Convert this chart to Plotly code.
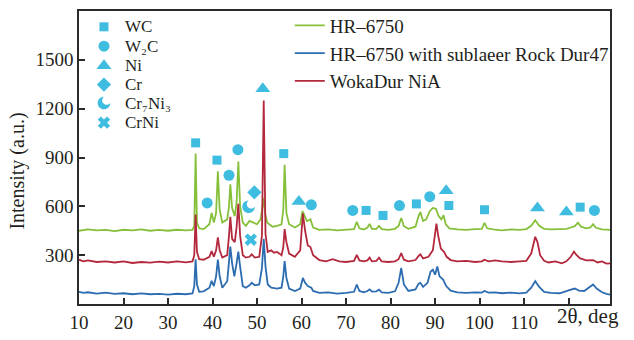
import plotly.graph_objects as go

# ---------------- data ----------------
tt_hr = [10, 12, 14, 16, 18, 20, 22, 24, 26, 28,
         30, 32, 34, 35.5, 35.9, 36.2, 36.5, 37.0, 38.0, 39.3,
         39.8, 40.3, 40.8, 41.2, 41.6, 42.2, 43.3, 43.7, 44.0, 44.4,
         45.0, 45.4, 45.8, 46.2, 46.8, 47.5, 48.3, 49.0, 50.0, 50.8,
         51.2, 51.5, 51.8, 52.3, 53.5, 54.5, 55.5, 55.9, 56.2, 56.6,
         57.2, 58.5, 59.7, 60.2, 60.5, 61.2, 62.0, 62.6, 64, 66,
         68, 70, 71.8, 72.4, 73.0, 74.0, 74.8, 75.3, 75.8, 76.8,
         77.4, 78.0, 79.5, 81.0, 81.8, 82.4, 83.0, 84.0, 85.6, 86.3,
         86.7, 87.3, 88.0, 88.8, 89.5, 90.2, 90.8, 91.4, 91.9, 92.4,
         93.2, 95, 97, 99, 100.5, 101.1, 101.7, 103, 105, 107,
         109, 110.5, 111.6, 112.5, 113.4, 114.5, 116, 118, 119.5, 120.5,
         121.4, 122.1, 122.8, 124, 124.9, 125.5, 126.1, 127.5, 129.3]
int_hr = [450, 458, 452, 455, 448, 456, 452, 458, 450, 455,
          450, 456, 452, 455, 480, 925, 500, 465, 460, 490,
          560, 500, 560, 815, 580, 500, 520, 600, 735, 590,
          540, 620, 875, 600, 500, 480, 510, 500, 490, 520,
          600, 650, 560, 500, 475, 480, 490, 580, 855, 560,
          490, 470, 490, 570, 555, 510, 520, 470, 455, 458,
          452, 455, 460, 505, 465, 458, 470, 492, 462, 462,
          480, 460, 455, 462, 480, 528, 478, 462, 475, 540,
          565, 510, 520, 570, 590, 585, 540, 520, 545, 490,
          465, 458, 455, 460, 462, 498, 465, 458, 452, 458,
          455, 460, 480, 514, 480, 462, 458, 460, 462, 470,
          478, 500, 475, 465, 470, 490, 468, 458, 455]

tt_sub = [10, 11, 12, 14, 16, 18, 20, 22, 24, 26, 28,
          30, 32, 34, 35.5, 35.9, 36.2, 36.5, 37.0, 38.0, 39.3,
          39.8, 40.3, 40.8, 41.2, 41.6, 42.2, 43.3, 43.7, 44.0, 44.4,
          44.9, 45.4, 45.8, 46.2, 46.8, 47.5, 48.3, 48.8, 49.5, 50.5,
          51.1, 51.5, 51.9, 52.4, 53.2, 54.5, 55.5, 55.9, 56.2, 56.6,
          57.2, 58.5, 59.7, 60.3, 60.8, 61.4, 62.2, 62.6, 64, 66,
          68, 70, 71.8, 72.4, 73.0, 74.0, 74.8, 75.3, 75.8, 76.8,
          77.4, 78.0, 79.5, 81.0, 81.8, 82.4, 83.0, 84.0, 85.6, 86.3,
          86.7, 87.3, 88.3, 89.0, 89.5, 90.0, 90.5, 91.0, 91.8, 92.5,
          93.5, 95, 97, 99, 100.5, 101.1, 102, 103.5, 105, 107,
          109, 110.5, 111.6, 112.5, 113.4, 114.5, 116, 118, 119.5, 120.5,
          121.4, 122.3, 123.5, 124.6, 125.5, 126.3, 127.5, 128.5, 129.3]
int_sub = [75, 68, 72, 64, 70, 62, 66, 60, 65, 60, 62,
           58, 63, 60, 65, 110, 275, 120, 75, 78, 100,
           142, 110, 170, 272, 170, 100, 140, 260, 352, 250,
           170, 250, 322, 230, 110, 100, 115, 130, 115, 120,
           220, 400, 230, 120, 100, 95, 100, 170, 263, 160,
           95, 80, 95, 160, 130, 110, 100, 80, 68, 72,
           64, 68, 75, 120, 80, 72, 80, 90, 76, 78,
           88, 72, 68, 78, 130, 221, 120, 80, 90, 125,
           130, 105, 130, 200, 211, 180, 231, 170, 150, 110,
           82, 72, 68, 72, 70, 80, 70, 72, 66, 70,
           65, 70, 100, 140, 105, 75, 68, 66, 82, 88,
           95, 82, 80, 100, 120, 95, 72, 62, 58]

tt_woka = [10, 11, 12, 14, 16, 18, 20, 22, 24, 26, 28,
           30, 32, 34, 35.5, 35.9, 36.2, 36.5, 37.0, 38.0, 39.3,
           39.8, 40.3, 40.8, 41.2, 41.6, 42.2, 43.3, 43.7, 44.0, 44.4,
           45.0, 45.4, 45.8, 46.2, 46.8, 47.5, 48.3, 48.8, 49.5, 50.5,
           51.1, 51.5, 51.9, 52.4, 53.2, 53.8, 54.5, 55.5, 55.9, 56.2,
           56.6, 57.2, 58.5, 59.7, 60.3, 60.8, 61.4, 62.0, 62.6, 64,
           65.5, 67, 68.5, 70, 71.8, 72.4, 73.0, 74.0, 74.8, 75.3,
           75.8, 76.8, 77.4, 78.0, 79.5, 81.0, 81.8, 82.4, 83.0, 84.0,
           85.6, 86.3, 86.7, 87.3, 88.5, 89.5, 90.0, 90.3, 90.7, 91.3,
           92.0, 92.6, 93.5, 95, 97, 99, 100.5, 101.1, 102, 103.5,
           105, 107, 109, 110.5, 111.6, 112.2, 112.5, 113.0, 113.6, 114.5,
           115.5, 117, 118.5, 119.5, 120.5, 121.2, 121.8, 122.6, 124, 125.5,
           126.5, 127.5, 128.5, 129.3]
int_woka = [272, 262, 268, 258, 262, 255, 262, 252, 258, 254, 260,
            255, 262, 256, 262, 300, 550, 320, 275, 272, 290,
            325, 290, 330, 410, 330, 285, 300, 420, 535, 400,
            380, 470, 615, 420, 300, 285, 290, 305, 285, 290,
            420, 1250, 430, 320, 330, 315, 320, 300, 350, 460,
            380, 310, 290, 330, 555, 450, 360, 350, 300, 270,
            262, 275, 262, 258, 265, 302, 268, 262, 268, 285,
            262, 265, 285, 262, 258, 262, 275, 312, 272, 262,
            270, 295, 305, 280, 290, 330, 420, 494, 420, 340,
            320, 290, 270, 262, 265, 258, 262, 272, 262, 268,
            262, 258, 262, 265, 310, 390, 413, 380, 300, 265,
            255, 262, 250, 262, 290, 322, 300, 280, 268, 270,
            255, 262, 248, 250]

series_names = ["HR\u20136750", "HR\u20136750 with sublaeer Rock Dur47", "WokaDur NiA"]

# phase markers: 2theta positions and heights
wc_tt = [36.2, 41.0, 56.0, 74.5, 78.3, 85.8, 93.1, 101.1, 122.6]
wc_int = [990, 884, 924, 575, 544, 615, 605, 579, 595]
w2c_tt = [38.8, 43.7, 45.7, 62.2, 71.5, 82.0, 88.8, 125.8]
w2c_int = [621, 791, 948, 609, 575, 605, 659, 575]
ni_tt = [51.3, 59.4, 92.5, 113.0, 119.5]
ni_int = [1322, 629, 696, 589, 565]
cr_tt = [49.4]
cr_int = [686]
cr7ni3_tt = [48.1]
cr7ni3_int = [597]
crni_tt = [48.6]
crni_int = [395]

phase_labels = ["WC", "W\u2082C", "Ni", "Cr", "Cr\u2087Ni\u2083", "CrNi"]

x_ticks = [10, 20, 30, 40, 50, 60, 70, 80, 90, 100, 110, 120]
x_ticktext = ["10", "20", "30", "40", "50", "60", "70", "80", "90", "100", "110", ""]
y_ticks = [300, 600, 900, 1200, 1500]

# ---------------- style ----------------
FONT = "Liberation Serif"
TXT = "#231f20"
CYAN = "#3fbde0"
GREEN = "#86c03a"
BLUE = "#2c6cb0"
RED = "#b3283c"

fig = go.Figure()
for tt, ii, name, col in [(tt_hr, int_hr, series_names[0], GREEN),
                          (tt_sub, int_sub, series_names[1], BLUE),
                          (tt_woka, int_woka, series_names[2], RED)]:
    fig.add_trace(go.Scatter(x=tt, y=ii, mode="lines", name=name,
                             line=dict(color=col, width=1.8), hoverinfo="skip"))

marker_sets = [
    (wc_tt, wc_int, "square", 9),
    (w2c_tt, w2c_int, "circle", 11),
    (ni_tt, ni_int, "triangle-up", 13),
    (cr_tt, cr_int, "diamond", 11),
    (crni_tt, crni_int, "x", 11),
]
for tt, ii, sym, sz in marker_sets:
    fig.add_trace(go.Scatter(x=tt, y=ii, mode="markers", showlegend=False, hoverinfo="skip",
                             marker=dict(symbol=sym, size=sz, color=CYAN, line=dict(width=0))))

# legend of phases (left top), markers on an overlay 0..1 axis
leg_x = 0.047
leg_ys = [0.946, 0.880, 0.813, 0.749, 0.686, 0.619]
leg_syms = ["square", "circle", "triangle-up", "diamond", None, "x"]
leg_sizes = [9, 11, 13, 11, 0, 11]
for yy, sym, sz in zip(leg_ys, leg_syms, leg_sizes):
    if sym is None:
        continue
    fig.add_trace(go.Scatter(x=[leg_x], y=[yy], xaxis="x2", yaxis="y2", mode="markers",
                             showlegend=False, hoverinfo="skip",
                             marker=dict(symbol=sym, size=sz, color=CYAN, line=dict(width=0))))
for yy, lab in zip(leg_ys, phase_labels):
    fig.add_annotation(x=0.083, y=yy, xref="paper", yref="paper", text=lab, showarrow=False,
                       xanchor="left", yanchor="middle", font=dict(family=FONT, size=17, color=TXT))

# crescent (Cr7Ni3) shape path in pixels
def crescent(s):
    pts = "M 0,7 C -3.87,7 -7,3.87 -7,0 C -7,-3.87 -3.87,-7 0,-7 C 3.87,-7 7,-3.87 7,0 " \
          "C 5.18,-2.43 1.61,-2.69 -0.54,-0.54 C -2.69,1.61 -2.43,5.18 0,7 Z"
    out = []
    for tok in pts.split():
        if "," in tok:
            a, b = tok.split(",")
            out.append(f"{float(a)*s:.2f},{float(b)*s:.2f}")
        else:
            out.append(tok)
    return " ".join(out)

cpath = crescent(0.9)
for tt, ii in zip(cr7ni3_tt, cr7ni3_int):
    fig.add_shape(type="path", xref="x", yref="y", xsizemode="pixel", ysizemode="pixel",
                  xanchor=tt, yanchor=ii, path=cpath, fillcolor=CYAN, line=dict(width=0), layer="above")
fig.add_shape(type="path", xref="paper", yref="paper", xsizemode="pixel", ysizemode="pixel",
              xanchor=leg_x, yanchor=leg_ys[4], path=cpath, fillcolor=CYAN, line=dict(width=0), layer="above")

# axis texts
fig.add_annotation(x=-0.115, y=0.455, xref="paper", yref="paper", text="Intensity (a.u.)",
                   textangle=-90, showarrow=False, xanchor="center", yanchor="middle",
                   font=dict(family=FONT, size=20, color=TXT))
fig.add_annotation(x=0.897, y=-0.040, xref="paper", yref="paper", text="2\u03b8, deg",
                   showarrow=False, xanchor="left", yanchor="middle",
                   font=dict(family=FONT, size=21, color=TXT))

axis_common = dict(showline=True, linecolor="#2b2b2b", linewidth=1.5, mirror=True,
                   ticks="inside", ticklen=6, tickwidth=1.5, tickcolor="#2b2b2b",
                   showgrid=False, zeroline=False,
                   tickfont=dict(family=FONT, size=19, color=TXT))

fig.update_layout(
    width=634, height=340,
    margin=dict(l=79, r=24, t=7, b=34),
    paper_bgcolor="white", plot_bgcolor="white",
    xaxis=dict(range=[10, 129.3], tickvals=x_ticks, ticktext=x_ticktext, **axis_common),
    yaxis=dict(range=[0, 1800], tickvals=y_ticks, **axis_common),
    xaxis2=dict(overlaying="x", range=[0, 1], visible=False),
    yaxis2=dict(overlaying="y", range=[0, 1], visible=False),
    legend=dict(x=0.397, y=1.015, xanchor="left", yanchor="top",
                bgcolor="rgba(0,0,0,0)", borderwidth=0, tracegroupgap=0,
                font=dict(family=FONT, size=19, color=TXT)),
    showlegend=True,
)

fig.write_html("out.html", config={"displayModeBar": False},
               post_script="document.body.style.margin='0px';")
